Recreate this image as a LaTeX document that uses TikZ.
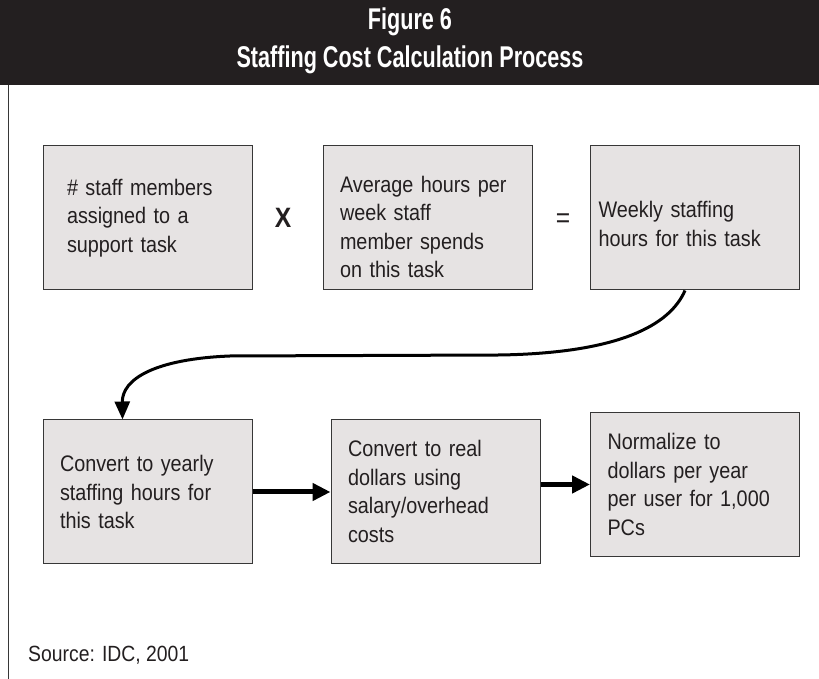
\documentclass[tikz,border=0pt]{standalone}
\usepackage{fontspec}
\setmainfont{Liberation Sans}[FakeStretch=0.88]
\newfontfamily\headfont{Liberation Sans}[FakeStretch=0.72]
\usetikzlibrary{arrows.meta}
\definecolor{band}{RGB}{35,31,32}
\definecolor{boxgray}{RGB}{230,227,227}
\definecolor{edge}{RGB}{55,55,55}
% pushes the text of a box down by #1
\newcommand{\dropby}[1]{\rule{0pt}{\dimexpr16.5pt+2\dimexpr#1\relax\relax}}

\begin{document}
\begin{tikzpicture}[x=1pt,y=1pt,
  stage/.style={draw=edge,line width=1pt,fill=boxgray,text=band,
    minimum width=209pt,minimum height=144pt,align=left,
    inner xsep=17pt,text width=175pt,font=\fontsize{22.5}{28.5}\selectfont},
  headtext/.style={text=white,font=\headfont\bfseries\fontsize{30}{32}\selectfont},
  flow/.style={line width=5pt,-{Triangle[length=18pt,width=17pt]}}]
\useasboundingbox (0,0) rectangle (819,679);
% title band and frame
\fill[band] (0,594) rectangle (819,679);
\node[headtext] (fig) at (410,657) {Figure 6};
\node[headtext] (title) at (410,619) {Staffing Cost Calculation Process};
\draw[edge,line width=1pt] (8,594) -- (8,0);
% top row
\node[stage,inner xsep=24pt,text width=161pt] (staff) at (147.5,461) {\# staff members\\assigned to a\\support task};
\node[stage] (avg) at (427.5,461) {\dropby{9pt}Average hours per\\week staff\\member spends\\on this task};
\node[stage,inner xsep=8pt,text width=193pt] (weekly) at (695,461) {\dropby{6pt}Weekly staffing\\hours for this task};
\node[text=band,font=\bfseries\fontsize{28}{30}\selectfont] (times) at (283,461) {X};
\node[text=band,font=\fontsize{28}{30}\selectfont] (equals) at (563,458) {=};
% bottom row
\node[stage] (yearly) at (147.5,187) {Convert to yearly\\staffing hours for\\this task};
\node[stage] (dollars) at (435.5,187.5) {Convert to real\\dollars using\\salary/overhead\\costs};
\node[stage] (norm) at (695,194.5) {Normalize to\\dollars per year\\per user for 1,000\\PCs};
\node[anchor=west,inner sep=0pt,text=band,font=\fontsize{22}{24}\selectfont] (src) at (28,24) {Source: IDC, 2001};
% connectors
\draw[line width=3pt,-{Triangle[length=18pt,width=15pt]}] ([xshift=-10pt]weekly.south)
  .. controls (670,354) and (620,326) .. (500,324) -- (230,323)
  .. controls (155,320) and (122,300) .. ([xshift=-25pt]yearly.north);
\draw[flow] (yearly.east) -- (yearly.east -| dollars.west);
\draw[flow] (dollars.east |- norm.west) -- (norm.west);
\end{tikzpicture}
\end{document}
